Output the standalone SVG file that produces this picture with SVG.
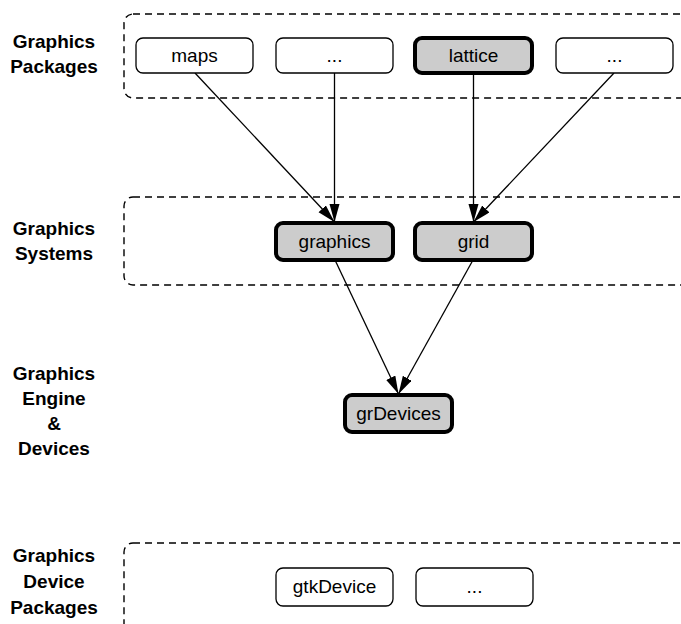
<svg xmlns="http://www.w3.org/2000/svg" width="681" height="624" viewBox="0 0 681 624">
<style>
.lbl{font-family:"Liberation Sans",Arial,sans-serif;font-weight:bold;font-size:19px;text-anchor:middle;fill:#000}
.txt{font-family:"Liberation Sans",Arial,sans-serif;font-size:19px;text-anchor:middle;fill:#000}
.grp{fill:none;stroke:#000;stroke-width:1.4;stroke-dasharray:7,5}
.n{fill:#fff;stroke:#000;stroke-width:1.3}
.h{fill:#cccccc;stroke:#000;stroke-width:4}
.e{fill:none;stroke:#000;stroke-width:1.3}
</style>
<defs>
<marker id="arr" markerUnits="userSpaceOnUse" markerWidth="20" markerHeight="12" refX="18" refY="5" orient="auto">
<path d="M0,0 L18,5 L0,10 z" fill="#000"/>
</marker>
</defs>
<rect width="681" height="624" fill="#fff"/>
<g id="layers">
<rect class="grp" x="124" y="14" width="570" height="84" rx="9"/>
<rect class="grp" x="124" y="197" width="570" height="88" rx="9"/>
<rect class="grp" x="124" y="543" width="570" height="100" rx="9"/>
</g>
<g id="labels">
<text class="lbl" x="54" y="48">Graphics</text>
<text class="lbl" x="54" y="73">Packages</text>
<text class="lbl" x="54" y="235">Graphics</text>
<text class="lbl" x="54" y="260">Systems</text>
<text class="lbl" x="54" y="380">Graphics</text>
<text class="lbl" x="54" y="405">Engine</text>
<text class="lbl" x="54" y="430">&amp;</text>
<text class="lbl" x="54" y="455">Devices</text>
<text class="lbl" x="54" y="562">Graphics</text>
<text class="lbl" x="54" y="588">Device</text>
<text class="lbl" x="54" y="614">Packages</text>
</g>
<g id="edges">
<line class="e" x1="195" y1="73" x2="334.5" y2="222" marker-end="url(#arr)"/>
<line class="e" x1="334.5" y1="73" x2="334.5" y2="222" marker-end="url(#arr)"/>
<line class="e" x1="473.5" y1="73" x2="473.5" y2="222" marker-end="url(#arr)"/>
<line class="e" x1="614" y1="73" x2="473.5" y2="222" marker-end="url(#arr)"/>
<line class="e" x1="335" y1="260" x2="398.5" y2="394" marker-end="url(#arr)"/>
<line class="e" x1="473" y1="260" x2="398.5" y2="394" marker-end="url(#arr)"/>
</g>
<g id="maps"><rect class="n" x="136" y="38" width="117" height="35" rx="7"/><text class="txt" x="194.5" y="62">maps</text></g>
<g id="pkg-more1"><rect class="n" x="276" y="38" width="117" height="35" rx="7"/><text class="txt" x="334.5" y="62">...</text></g>
<g id="lattice"><rect class="h" x="415" y="38" width="117" height="35" rx="7"/><text class="txt" x="473.5" y="62">lattice</text></g>
<g id="pkg-more2"><rect class="n" x="556" y="38" width="117" height="35" rx="7"/><text class="txt" x="614.5" y="62">...</text></g>
<g id="graphics"><rect class="h" x="276" y="223" width="117" height="37" rx="7"/><text class="txt" x="334.5" y="248">graphics</text></g>
<g id="grid"><rect class="h" x="415" y="223" width="117" height="37" rx="7"/><text class="txt" x="473.5" y="248">grid</text></g>
<g id="grDevices"><rect class="h" x="345" y="395" width="107" height="37" rx="7"/><text class="txt" x="398.5" y="420">grDevices</text></g>
<g id="gtkDevice"><rect class="n" x="276" y="568" width="117" height="38" rx="7"/><text class="txt" x="334.5" y="593">gtkDevice</text></g>
<g id="dev-more"><rect class="n" x="416" y="568" width="117" height="38" rx="7"/><text class="txt" x="474.5" y="593">...</text></g>
</svg>
